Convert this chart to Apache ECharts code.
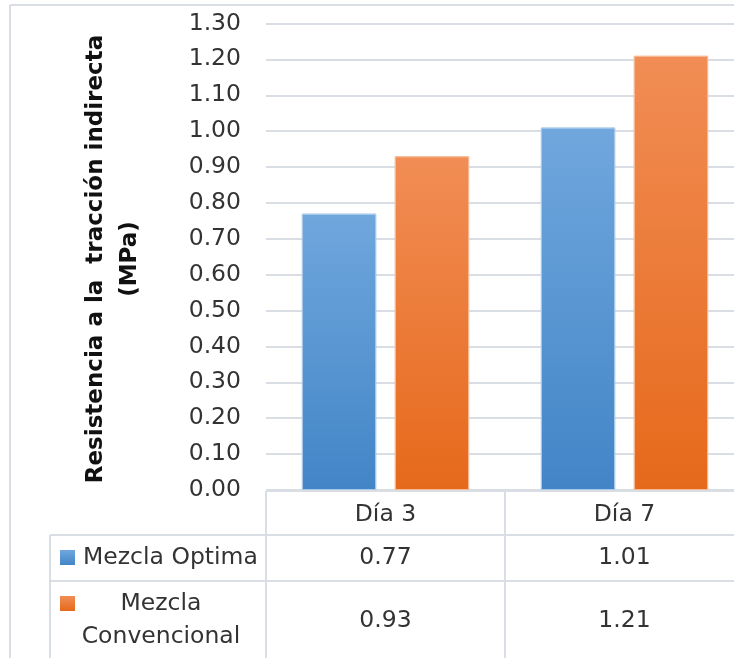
<!DOCTYPE html>
<html>
<head>
<meta charset="utf-8">
<script src="https://cdn.jsdelivr.net/npm/echarts@6/dist/echarts.min.js"></script>
<style>
  html, body { margin: 0; padding: 0; background: #fff; overflow: hidden; }
  #chart { width: 744px; height: 658px; }
</style>
</head>
<body>
<div id="chart"></div>
<script>
// Data
const categories = ['Día 3', 'Día 7'];
const seriesNames = ['Mezcla Optima', 'Mezcla Convencional'];
const tableRowLabels = ['Mezcla Optima', 'Mezcla\nConvencional'];
const optimaValues = [0.77, 1.01];
const convencionalValues = [0.93, 1.21];
const yTicks = { min: 0, max: 1.3, step: 0.1 };
const yTitle = 'Resistencia a la  tracción indirecta\n(MPa)';

const FONT = 'DejaVu Sans';
const TEXT = '#333333';
const LINE = '#d9dde4';
const FS = 23.5;

const blueFill = new echarts.graphic.LinearGradient(0, 0, 0, 1, [
  { offset: 0, color: '#70a7dd' },
  { offset: 1, color: '#4285c7' }
]);
const orangeFill = new echarts.graphic.LinearGradient(0, 0, 0, 1, [
  { offset: 0, color: '#f18d55' },
  { offset: 1, color: '#e6691b' }
]);

const chart = echarts.init(document.getElementById('chart'), null, { renderer: 'canvas' });

// the plot area runs a little past the visible right edge, as the table does
chart.setOption({
  animation: false,
  backgroundColor: '#ffffff',
  grid: { left: 266, top: 23.5, right: 0, bottom: 168, containLabel: false },
  xAxis: {
    type: 'category',
    data: categories,
    axisLine: { show: false },
    axisTick: { show: false },
    axisLabel: { show: false },
    splitLine: { show: false }
  },
  yAxis: {
    type: 'value',
    min: yTicks.min,
    max: yTicks.max,
    interval: yTicks.step,
    axisLine: { show: false },
    axisTick: { show: false },
    axisLabel: {
      margin: 25,
      fontFamily: FONT,
      fontSize: FS,
      color: TEXT,
      formatter: v => v.toFixed(2)
    },
    splitLine: { lineStyle: { color: LINE, width: 2 } }
  },
  series: [
    {
      name: seriesNames[0],
      type: 'bar',
      data: optimaValues,
      barGap: '25%',
      barCategoryGap: '30%',
      itemStyle: { color: blueFill, borderColor: '#a8c8ea', borderWidth: 1 }
    },
    {
      name: seriesNames[1],
      type: 'bar',
      data: convencionalValues,
      barGap: '25%',
      barCategoryGap: '30%',
      itemStyle: { color: orangeFill, borderColor: '#f6b993', borderWidth: 1 }
    }
  ]
});

// Data table under the plot, aligned to the category bands
const c0 = chart.convertToPixel({ xAxisIndex: 0 }, 0);
const c1 = chart.convertToPixel({ xAxisIndex: 0 }, 1);
const band = c1 - c0;
const colEdges = [c0 - band / 2, c0 + band / 2, c1 + band / 2];
const W = 744, H = 658;
const tableTop = 491, row1Top = 535, row2Top = 581, labelLeft = 50;

const lineStyle = { stroke: LINE, lineWidth: 2 };
const hline = (x1, x2, y) => ({ type: 'line', shape: { x1, y1: y, x2, y2: y }, style: lineStyle, silent: true });
const vline = (x, y1, y2) => ({ type: 'line', shape: { x1: x, y1, x2: x, y2 }, style: lineStyle, silent: true });
const txt = (x, y, text, extra) => ({
  type: 'text', x, y, silent: true,
  style: Object.assign({ text, fill: TEXT, font: `${FS}px "${FONT}"`, align: 'center', verticalAlign: 'middle' }, extra || {})
});

const graphics = [
  // chart area border
  hline(10, W, 5),
  vline(10, 5, H),
  // table grid
  hline(colEdges[0], W, tableTop),
  hline(labelLeft, W, row1Top),
  hline(labelLeft, W, row2Top),
  vline(labelLeft, row1Top, H),
  vline(colEdges[0], tableTop, H),
  vline(colEdges[1], tableTop, H),
  vline(colEdges[2], tableTop, H)
];

const centers = [c0, c1];
categories.forEach((cat, i) => {
  graphics.push(txt(centers[i], 515, cat));
  graphics.push(txt(centers[i], 558, optimaValues[i].toFixed(2)));
  graphics.push(txt(centers[i], 621, convencionalValues[i].toFixed(2)));
});

// row legend keys and labels
graphics.push({ type: 'rect', shape: { x: 60, y: 550, width: 15, height: 15 }, style: { fill: blueFill }, silent: true });
graphics.push({ type: 'rect', shape: { x: 60, y: 596, width: 15, height: 15 }, style: { fill: orangeFill }, silent: true });
graphics.push(txt(83, 558, tableRowLabels[0], { align: 'left' }));
graphics.push(txt(161, 620, tableRowLabels[1], { lineHeight: 33 }));

// vertical axis title
graphics.push({
  type: 'text', x: 113, y: 259, rotation: Math.PI / 2, silent: true,
  style: { text: yTitle, fill: '#111111', font: `bold 23px "${FONT}"`, align: 'center', verticalAlign: 'middle', lineHeight: 34 }
});

chart.setOption({ graphic: { elements: graphics } });
</script>
</body>
</html>
